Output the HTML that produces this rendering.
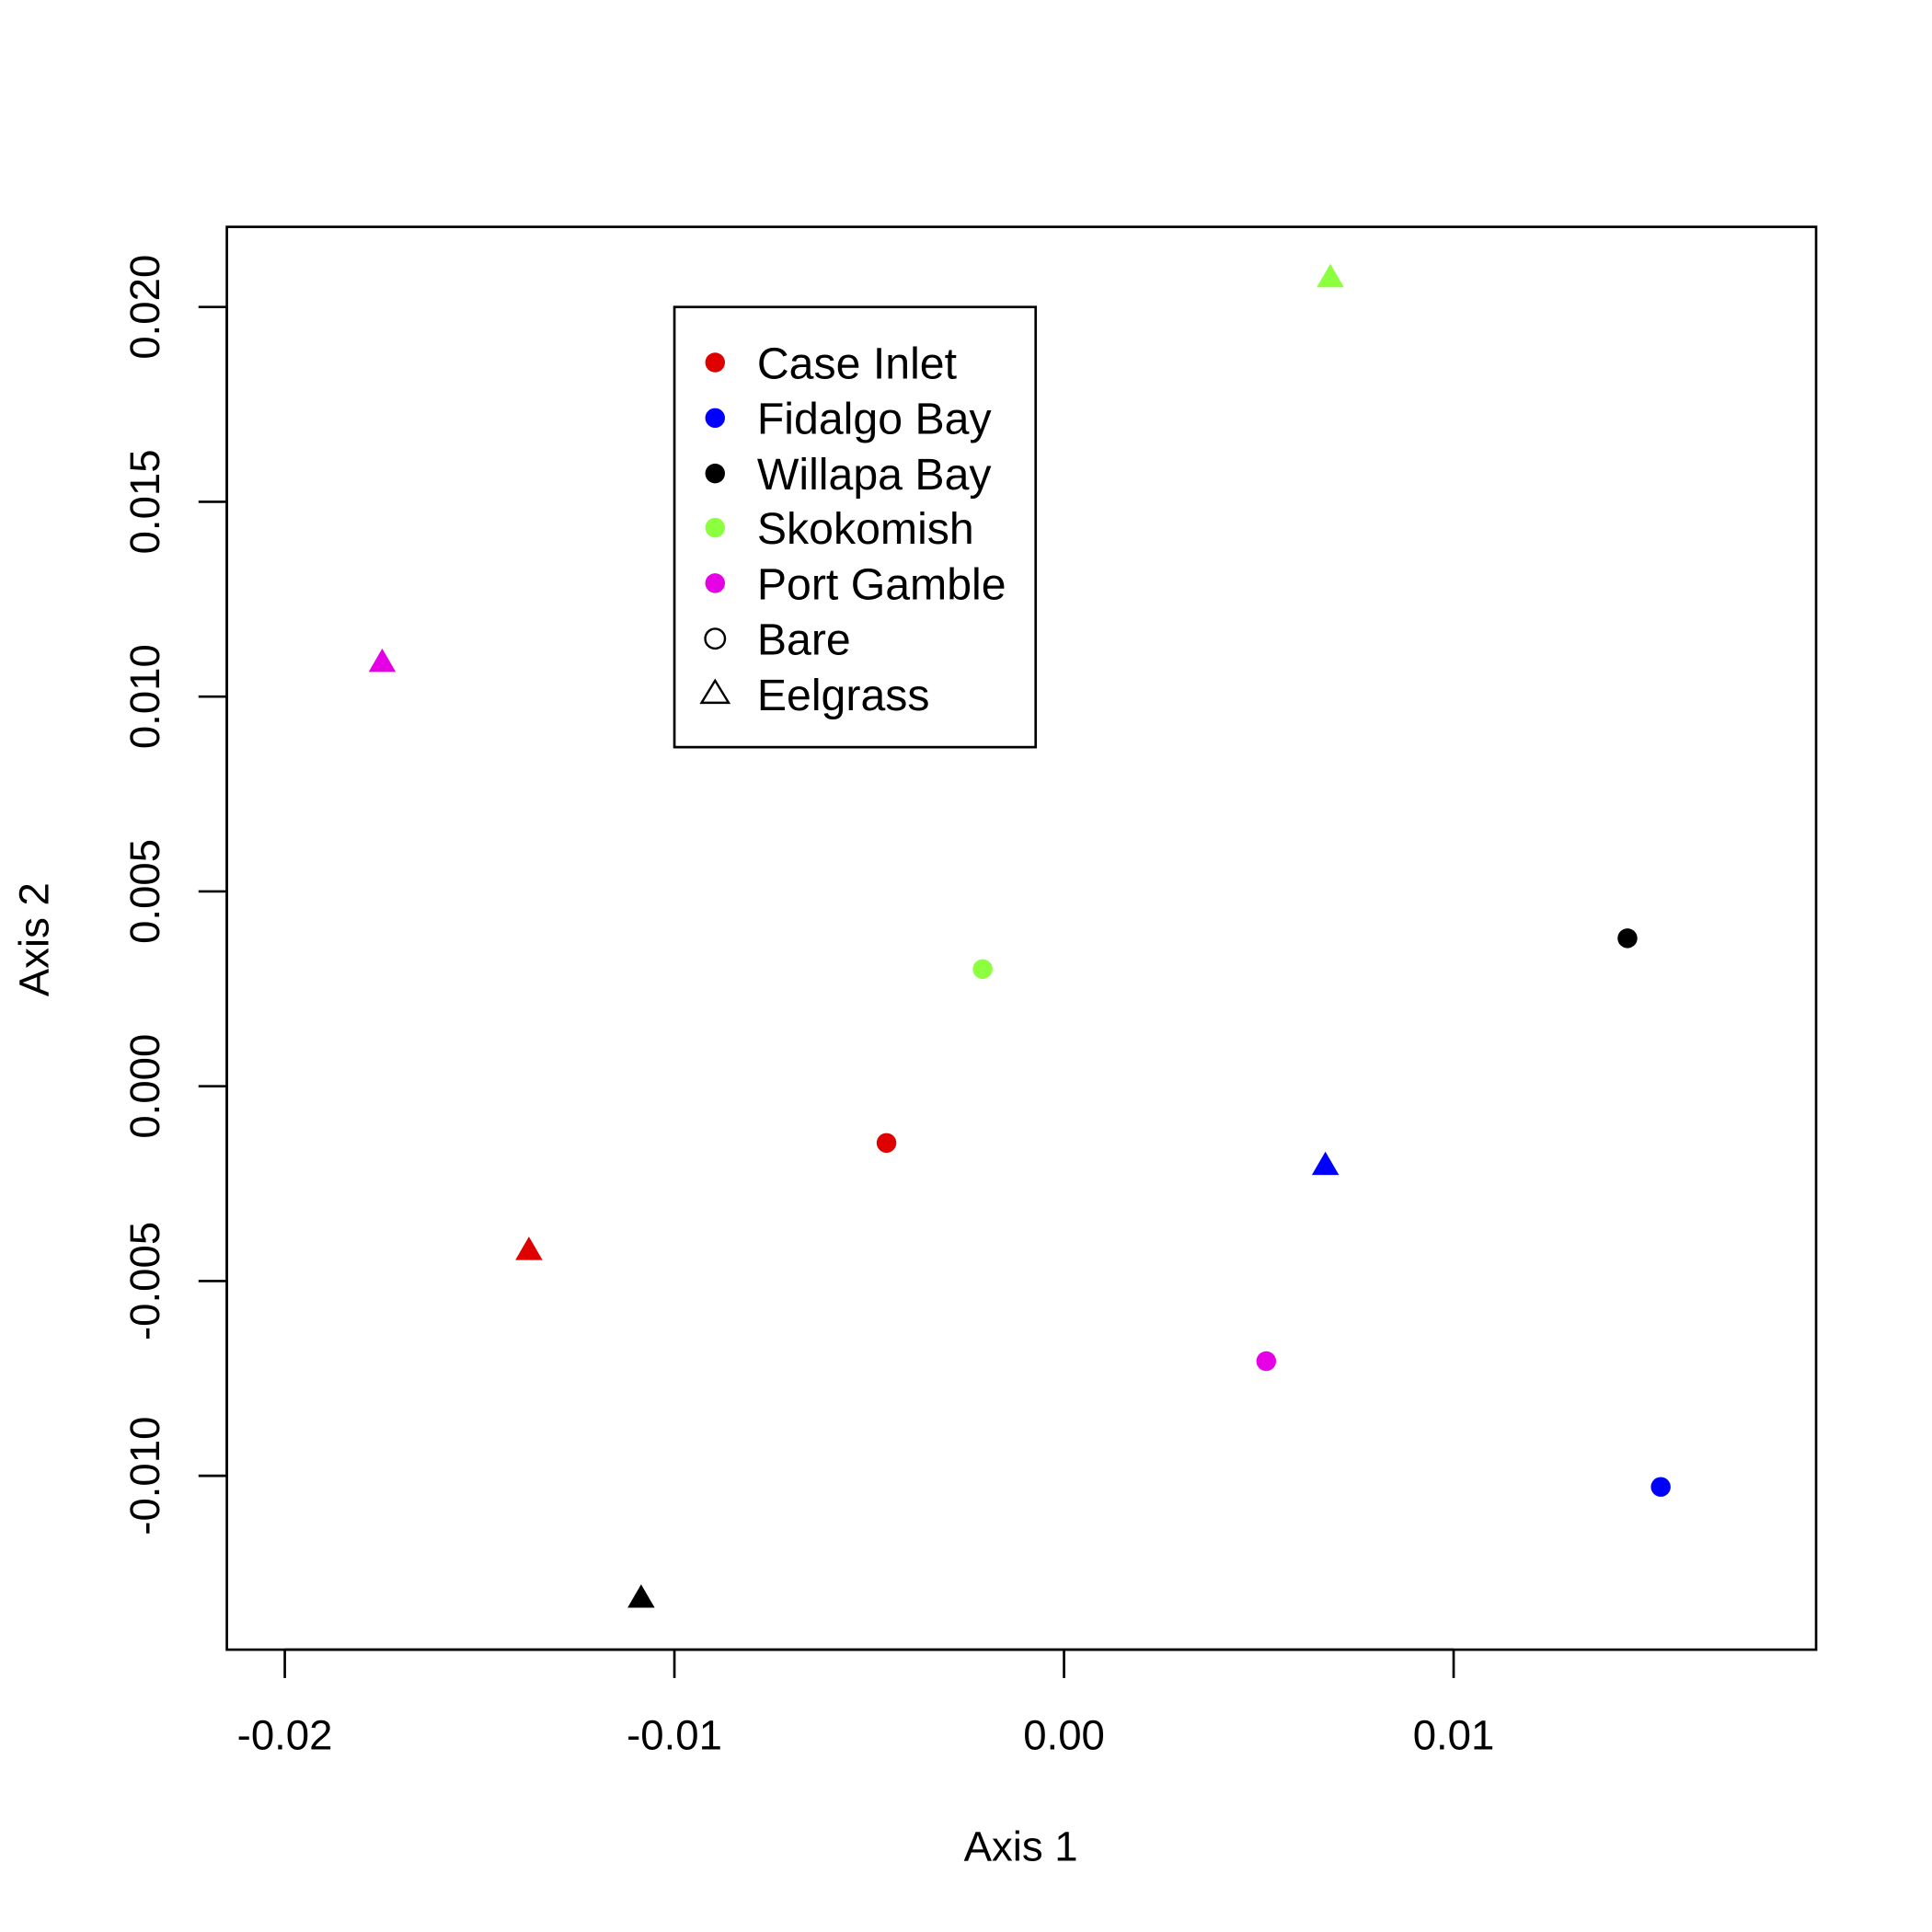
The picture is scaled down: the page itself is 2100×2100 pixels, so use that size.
<!DOCTYPE html>
<html><head><meta charset="utf-8"><style>html,body{margin:0;padding:0;background:#fff}svg{display:block}</style></head>
<body>
<svg width="2100" height="2100" viewBox="0 0 1567 1567" xmlns="http://www.w3.org/2000/svg" font-family="Liberation Sans, Arial, sans-serif">
<rect width="1567" height="1567" fill="#fff"/>
<rect x="184" y="184" width="1289" height="1154" fill="none" stroke="#000" stroke-width="2"/>
<g stroke="#000" stroke-width="2">
<line x1="231" y1="1338" x2="1179" y2="1338"/>
<line x1="231" y1="1338" x2="231" y2="1361"/>
<line x1="547" y1="1338" x2="547" y2="1361"/>
<line x1="863" y1="1338" x2="863" y2="1361"/>
<line x1="1179" y1="1338" x2="1179" y2="1361"/>
<line x1="184" y1="249" x2="184" y2="1197"/>
<line x1="161" y1="249" x2="184" y2="249"/>
<line x1="161" y1="407" x2="184" y2="407"/>
<line x1="161" y1="565" x2="184" y2="565"/>
<line x1="161" y1="723" x2="184" y2="723"/>
<line x1="161" y1="881" x2="184" y2="881"/>
<line x1="161" y1="1039" x2="184" y2="1039"/>
<line x1="161" y1="1197" x2="184" y2="1197"/>
</g>
<g font-size="34" text-anchor="middle" fill="#000">
<text x="231" y="1419">-0.02</text>
<text x="547" y="1419">-0.01</text>
<text x="863" y="1419">0.00</text>
<text x="1179" y="1419">0.01</text>
<text x="828" y="1509">Axis 1</text>
<g transform="translate(129,0)">
<text transform="translate(0,249) rotate(-90)">0.020</text>
<text transform="translate(0,407) rotate(-90)">0.015</text>
<text transform="translate(0,565) rotate(-90)">0.010</text>
<text transform="translate(0,723) rotate(-90)">0.005</text>
<text transform="translate(0,881) rotate(-90)">0.000</text>
<text transform="translate(0,1039) rotate(-90)">-0.005</text>
<text transform="translate(0,1197) rotate(-90)">-0.010</text>
</g>
<text transform="translate(39,762) rotate(-90)">Axis 2</text>
</g>
<circle cx="719" cy="927" r="8" fill="#DF0000"/>
<circle cx="797" cy="786" r="8" fill="#8CFF3F"/>
<circle cx="1320" cy="761" r="8" fill="#000"/>
<circle cx="1027" cy="1104" r="8" fill="#E600E6"/>
<circle cx="1347" cy="1206" r="8" fill="#0000FF"/>
<polygon points="1079,214 1068,233 1090,233" fill="#8CFF3F"/>
<polygon points="310,526 299,545 321,545" fill="#E600E6"/>
<polygon points="429,1003 418,1022 440,1022" fill="#DF0000"/>
<polygon points="1075,934 1064,953 1086,953" fill="#0000FF"/>
<polygon points="520,1285 509,1304 531,1304" fill="#000"/>
<rect x="547" y="249" width="293" height="357" fill="#fff" stroke="#000" stroke-width="2"/>
<circle cx="580" cy="294" r="8" fill="#DF0000"/>
<circle cx="580" cy="339" r="8" fill="#0000FF"/>
<circle cx="580" cy="384" r="8" fill="#000"/>
<circle cx="580" cy="428" r="8" fill="#8CFF3F"/>
<circle cx="580" cy="473" r="8" fill="#E600E6"/>
<circle cx="580" cy="518" r="8" fill="none" stroke="#000" stroke-width="1.8"/>
<polygon points="580,552 569,570 591,570" fill="none" stroke="#000" stroke-width="1.8"/>
<g font-size="36" fill="#000">
<text x="614" y="307">Case Inlet</text>
<text x="614" y="352">Fidalgo Bay</text>
<text x="614" y="397">Willapa Bay</text>
<text x="614" y="441">Skokomish</text>
<text x="614" y="486">Port Gamble</text>
<text x="614" y="531">Bare</text>
<text x="614" y="576">Eelgrass</text>
</g>
</svg>
</body></html>
